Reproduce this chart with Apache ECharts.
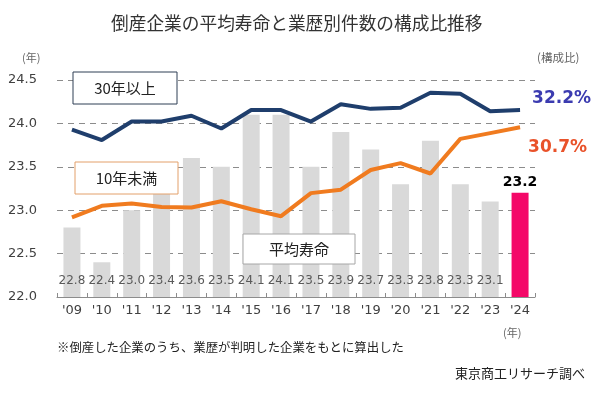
<!DOCTYPE html>
<html>
<head>
<meta charset="utf-8">
<script src="https://cdn.jsdelivr.net/npm/echarts@6/dist/echarts.min.js"></script>
<style>html,body{margin:0;padding:0;background:#fff;}#c{width:600px;height:394px;}</style>
</head>
<body>
<div id="c"></div>
<script>
const years = ["'09","'10","'11","'12","'13","'14","'15","'16","'17","'18","'19","'20","'21","'22","'23","'24"];
const avgLife = [22.8,22.4,23.0,23.4,23.6,23.5,24.1,24.1,23.5,23.9,23.7,23.3,23.8,23.3,23.1,23.2];
const over30 = [30.5,29.6,31.2,31.2,31.7,30.6,32.2,32.2,31.2,32.7,32.3,32.4,33.7,33.6,32.1,32.2];
const under10 = [22.9,23.9,24.1,23.8,23.75,24.3,23.6,23.0,25.0,25.3,27.0,27.6,26.7,29.7,30.2,30.7];
const yTicks = [22.0,22.5,23.0,23.5,24.0,24.5];

const JP = "'Noto Sans CJK JP', sans-serif";
const NUM = "'DejaVu Sans', sans-serif";
const last = years.length - 1;

const barData = avgLife.map((v, i) => i === last ? {
  value: v,
  itemStyle: { color: '#f40868' },
  label: { position: 'top', distance: 3, color: '#000', fontWeight: 'bold', fontSize: 14, fontFamily: NUM }
} : v);

function box(x, y, w, h, text, stroke) {
  return {
    type: 'group', z: 100,
    children: [
      { type: 'rect', shape: { x: x, y: y, width: w, height: h }, style: { fill: '#fff', stroke: stroke, lineWidth: 1 }, z: 100 },
      { type: 'text', x: x + w / 2, y: y + h / 2, style: { text: text, fill: '#222', font: '15px ' + JP, textAlign: 'center', textVerticalAlign: 'middle' }, z: 101 }
    ]
  };
}

const chart = echarts.init(document.getElementById('c'), null, { renderer: 'canvas' });
chart.setOption({
  animation: false,
  backgroundColor: '#fff',
  title: {
    text: '倒産企業の平均寿命と業歴別件数の構成比推移',
    left: 106, top: 9,
    textStyle: { fontFamily: JP, fontSize: 17.7, fontWeight: 'normal', color: '#333' }
  },
  grid: { left: 57, right: 65, top: 80, bottom: 97 },
  xAxis: {
    type: 'category', data: years, boundaryGap: true,
    axisLine: { lineStyle: { color: '#8c8c8c', width: 1 } },
    axisTick: { show: true, inside: true, length: 4, lineStyle: { color: '#8c8c8c' } },
    axisLabel: { color: '#404040', fontSize: 13, fontFamily: NUM, margin: 7 }
  },
  yAxis: [{
    type: 'value', min: 22, max: 24.5, interval: 0.5,
    axisLine: { show: false }, axisTick: { show: false },
    axisLabel: { color: '#404040', fontSize: 13, fontFamily: NUM, margin: 20, formatter: v => v.toFixed(1) },
    splitLine: { show: true, lineStyle: { color: '#8c8c8c', type: [6, 5], width: 1 } }
  }, {
    type: 'value', min: 16, max: 34.8, show: false,
    splitLine: { show: false }
  }],
  series: [{
    name: '平均寿命', type: 'bar', data: barData, barWidth: 17, yAxisIndex: 0,
    itemStyle: { color: '#d9d9d9' },
    label: { show: true, position: 'insideBottom', distance: 10, color: '#5a5a5a', fontSize: 12, fontFamily: NUM, formatter: p => Number(p.value).toFixed(1) },
    z: 2
  }, {
    name: '30年以上', type: 'line', data: over30, yAxisIndex: 1,
    symbol: 'none', lineStyle: { color: '#1f3e6c', width: 4 }, itemStyle: { color: '#1f3e6c' }, z: 3,
    endLabel: { show: true, distance: 12, offset: [0, -11], formatter: p => p.value + '%', color: '#3b3bb0', fontWeight: 'bold', fontSize: 17, fontFamily: NUM }
  }, {
    name: '10年未満', type: 'line', data: under10, yAxisIndex: 1,
    symbol: 'none', lineStyle: { color: '#f07b1f', width: 4 }, itemStyle: { color: '#f07b1f' }, z: 3,
    endLabel: { show: true, distance: 8, offset: [0, 20], formatter: p => p.value + '%', color: '#e9522a', fontWeight: 'bold', fontSize: 17, fontFamily: NUM }
  }],
  graphic: [
    box(73, 72, 104, 32, '30年以上', '#2f3f55'),
    box(75, 162, 103, 32, '10年未満', '#e3a06a'),
    box(243, 234, 112, 30, '平均寿命', '#a6a6a6'),
    { type: 'text', x: 22, y: 52, z: 100, style: { text: '(年)', fill: '#666', font: '11px ' + JP } },
    { type: 'text', x: 537, y: 52, z: 100, style: { text: '(構成比)', fill: '#666', font: '11.5px ' + JP } },
    { type: 'text', x: 503, y: 327, z: 100, style: { text: '(年)', fill: '#666', font: '11px ' + JP } },
    { type: 'text', x: 57, y: 347, z: 100, style: { text: '※倒産した企業のうち、業歴が判明した企業をもとに算出した', fill: '#222', font: '12.4px ' + JP, textVerticalAlign: 'middle' } },
    { type: 'text', x: 585, y: 373, z: 100, style: { text: '東京商工リサーチ調べ', fill: '#222', font: '13px ' + JP, textAlign: 'right', textVerticalAlign: 'middle' } }
  ]
});
</script>
</body>
</html>
